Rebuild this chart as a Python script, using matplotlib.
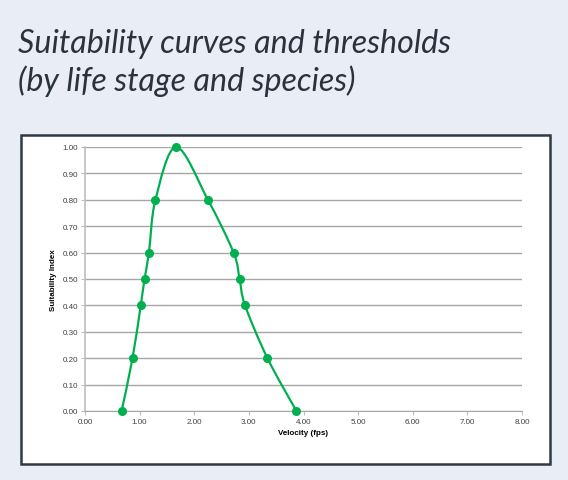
import matplotlib.pyplot as plt
from matplotlib.path import Path
from matplotlib.patches import PathPatch, Rectangle

# data
velocity = [0.67, 0.87, 1.02, 1.09, 1.17, 1.29, 1.67, 2.25, 2.72, 2.83, 2.93, 3.34, 3.87]
suitability = [0.0, 0.2, 0.4, 0.5, 0.6, 0.8, 1.0, 0.8, 0.6, 0.5, 0.4, 0.2, 0.0]
x_ticks = [0, 1, 2, 3, 4, 5, 6, 7, 8]
y_ticks = [0.0, 0.1, 0.2, 0.3, 0.4, 0.5, 0.6, 0.7, 0.8, 0.9, 1.0]
title_lines = ["Suitability curves and thresholds", "(by life stage and species)"]

green = "#00B050"
bg = "#E9EDF6"

fig = plt.figure(figsize=(5.68, 4.81), dpi=100)
fig.patch.set_facecolor(bg)

# title, one text per line
for line, base in zip(title_lines, [53, 91]):
    fig.text(18 / 568, 1 - base / 481, line, fontsize=23.2, style="italic", family="Lato",
             color="#2A333D", ha="left", va="baseline")

# white chart box (behind the axes)
fig.patches.append(Rectangle((21 / 568, 1 - 465 / 481), (550 - 21) / 568, (465 - 136) / 481,
                             transform=fig.transFigure, facecolor="white",
                             edgecolor="#2F3A44", linewidth=1.8, zorder=-5))

ax = fig.add_axes([85 / 568, 1 - 412 / 481, (522 - 85) / 568, (412 - 148) / 481])
ax.set_facecolor("none")
ax.set_zorder(2)

# smooth curve like the spreadsheet's "smoothed line"
pts = list(zip(velocity, suitability))
verts = [pts[0]]
codes = [Path.MOVETO]
n = len(pts)
for i in range(n - 1):
    p0 = pts[max(i - 1, 0)]
    p1 = pts[i]
    p2 = pts[i + 1]
    p3 = pts[min(i + 2, n - 1)]
    c1 = (p1[0] + (p2[0] - p0[0]) / 6, p1[1] + (p2[1] - p0[1]) / 6)
    c2 = (p2[0] - (p3[0] - p1[0]) / 6, p2[1] - (p3[1] - p1[1]) / 6)
    verts += [c1, c2, p2]
    codes += [Path.CURVE4] * 3
ax.add_patch(PathPatch(Path(verts, codes), facecolor="none", edgecolor=green,
                       linewidth=1.6, zorder=3, clip_on=False))
ax.plot(velocity, suitability, linestyle="none", marker="o", markersize=5.5,
        color=green, zorder=4, clip_on=False)

ax.set_xlim(0, 8)
ax.set_ylim(0, 1)
ax.set_xticks(x_ticks)
ax.set_yticks(y_ticks)
ax.set_xticklabels([f"{v:.2f}" for v in x_ticks])
ax.set_yticklabels([f"{v:.2f}" for v in y_ticks])
ax.grid(axis="y", color="#A6A6A6", linewidth=1)
ax.set_axisbelow(True)
for s in ["top", "right"]:
    ax.spines[s].set_visible(False)
ax.spines["left"].set_color("#BFBFBF")
ax.spines["bottom"].set_color("#A6A6A6")
ax.spines["left"].set_linewidth(1.2)
ax.tick_params(axis="both", labelsize=5.8, colors="#BFBFBF", labelcolor="#404040",
               length=3, width=0.8, pad=2)
for lab in ax.get_xticklabels() + ax.get_yticklabels():
    lab.set_family("Liberation Sans")

ax.set_xlabel("Velocity (fps)", fontsize=5.8, fontweight="bold", family="Liberation Sans",
              labelpad=3)
ax.set_ylabel("Suitability Index", fontsize=5.8, fontweight="bold", family="Liberation Sans",
              labelpad=4)

fig.savefig("out.png", dpi=100, facecolor=bg)
